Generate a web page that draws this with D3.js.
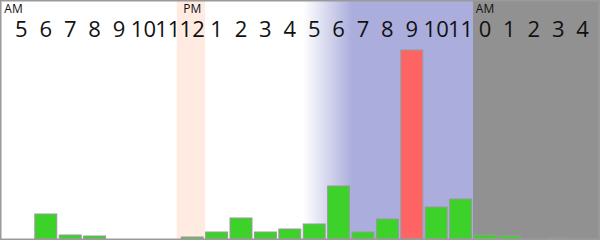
<!DOCTYPE html>
<html>
<head>
<meta charset="utf-8">
<script src="https://cdn.jsdelivr.net/npm/d3@7"></script>
<style>
  html, body { margin: 0; padding: 0; background: #fff; }
  svg { display: block; font-family: "Open Sans", sans-serif; }
</style>
</head>
<body>
<svg id="chart" width="600" height="240"></svg>
<script>
// Hours of the day, from 5 AM through 4 AM the next morning
const hours = [5, 6, 7, 8, 9, 10, 11, 12, 13, 14, 15, 16, 17, 18, 19, 20, 21, 22, 23, 0, 1, 2, 3, 4];
const hourLabels = ["5", "6", "7", "8", "9", "10", "11", "12", "1", "2", "3", "4", "5", "6", "7", "8", "9", "10", "11", "0", "1", "2", "3", "4"];
// Activity per hour
const activity = [0, 25, 4, 3, 0, 0, 0, 2, 7, 21, 7, 10, 15, 53, 7, 20, 189, 32, 40, 4, 3, 0, 1, 0];
// Hour singled out in red
const peakHour = 21;
// Period markers shown above the hour numbers
const periodMarks = [{ hour: 5, text: "AM", align: "start" }, { hour: 12, text: "PM", align: "middle" }, { hour: 0, text: "AM", align: "middle" }];

const W = 600, H = 240;
const svg = d3.select("#chart");

const x = d3.scaleBand()
  .domain(hours)
  .range([9.2, 594.8])
  .paddingInner(0.1)
  .paddingOuter(0.05);

const baseY = 239;
const y = d3.scaleLinear().domain([0, 200]).range([baseY, baseY - 200]);

// Background bands: noon, evening (fading in), night
const defs = svg.append("defs");
const grad = defs.append("linearGradient")
  .attr("id", "eveningFade")
  .attr("gradientUnits", "userSpaceOnUse")
  .attr("x1", x(17)).attr("x2", x(19))
  .attr("y1", 0).attr("y2", 0);
grad.append("stop").attr("offset", "0%").attr("stop-color", "#abaedc").attr("stop-opacity", 0);
grad.append("stop").attr("offset", "100%").attr("stop-color", "#abaedc").attr("stop-opacity", 1);

svg.append("rect")
  .attr("x", x(12) - 4.5).attr("y", 0)
  .attr("width", x(13) - 0.5 - (x(12) - 4.5)).attr("height", H)
  .attr("fill", "#ffebe1");

svg.append("rect")
  .attr("x", x(17)).attr("y", 0)
  .attr("width", x(19) - x(17)).attr("height", H)
  .attr("fill", "url(#eveningFade)");

svg.append("rect")
  .attr("x", x(19) - 0.1).attr("y", 0)
  .attr("width", x(0) - 1 - x(19) + 0.1).attr("height", H)
  .attr("fill", "#abaedc");

svg.append("rect")
  .attr("x", x(0) - 1).attr("y", 0)
  .attr("width", W - (x(0) - 1)).attr("height", H)
  .attr("fill", "#919191");

// Bars
svg.append("g")
  .selectAll("rect")
  .data(hours.map((h, i) => ({ hour: h, value: activity[i] })).filter(d => d.value > 0))
  .join("rect")
  .attr("x", d => x(d.hour))
  .attr("y", d => y(d.value))
  .attr("width", x.bandwidth())
  .attr("height", d => y(0) - y(d.value))
  .attr("fill", d => d.hour === peakHour ? "#ff6464" : "#3cd22a")
  .attr("stroke", "#9a9a9a")
  .attr("stroke-width", 1);

// Hour numbers along the top
const labelByHour = new Map(hours.map((h, i) => [h, hourLabels[i]]));
const axis = d3.axisTop(x)
  .tickSize(0)
  .tickPadding(0)
  .tickFormat(h => labelByHour.get(h));

const axisG = svg.append("g")
  .attr("transform", `translate(0,37)`)
  .call(axis);
axisG.select(".domain").remove();
axisG.selectAll("text")
  .attr("font-family", "'Open Sans', sans-serif")
  .attr("font-size", 22)
  .attr("fill", "#111")
  .attr("dy", 0);

// AM / PM markers
svg.append("g")
  .selectAll("text")
  .data(periodMarks)
  .join("text")
  .attr("x", d => d.align === "start" ? 4.3 : x(d.hour) + x.bandwidth() / 2)
  .attr("y", 13.3)
  .attr("text-anchor", d => d.align)
  .attr("font-size", 12)
  .attr("fill", "#111")
  .text(d => d.text);

// Frame
svg.append("rect")
  .attr("x", 0.75).attr("y", 0.75)
  .attr("width", W - 1.5).attr("height", H - 1.5)
  .attr("fill", "none")
  .attr("stroke", "#9a9a9a")
  .attr("stroke-width", 1.5);
</script>
</body>
</html>
